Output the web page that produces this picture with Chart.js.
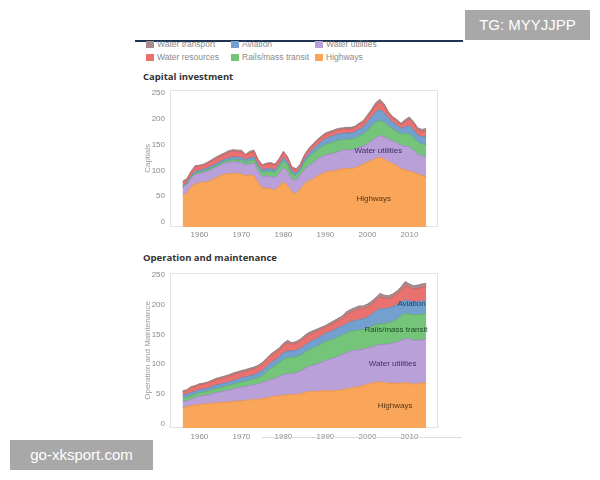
<!DOCTYPE html>
<html>
<head>
<meta charset="utf-8">
<script src="https://cdn.jsdelivr.net/npm/chart.js@4.4.0/dist/chart.umd.min.js"></script>
<style>
  html, body { margin:0; padding:0; background:#fff; }
  body { width:600px; height:480px; position:relative; overflow:hidden; font-family:"Liberation Sans", Arial, sans-serif; }
  .abs { position:absolute; }
  .title { font-family:"Open Sans","DejaVu Sans",sans-serif; font-weight:bold; font-size:9.5px; color:#333; white-space:nowrap; }
  .leg { font-size:8.5px; color:#8a8a8a; white-space:nowrap; line-height:10px; }
  .leg span.sw { display:inline-block; width:8px; height:7px; margin-right:3px; vertical-align:-1px; }
  .wm { background:#a8a8a8; color:#fff; font-family:"Liberation Sans", Arial, sans-serif; font-size:15px; line-height:30px; text-align:center; }
</style>
</head>
<body>
<div class="abs" style="left:135px; top:40px; width:328px; height:2px; background:#1d3552;"></div>
<div id="legend"></div>
<div class="abs title" style="left:143px; top:70px;">Capital investment</div>
<canvas id="c1" class="abs" width="310" height="162" style="left:135px; top:80px;"></canvas>
<div class="abs title" style="left:143px; top:251px;">Operation and maintenance</div>
<canvas id="c2" class="abs" width="310" height="180" style="left:135px; top:263px;"></canvas>
<div class="abs" style="left:262px; top:437px; width:200px; height:1px; background:#ddd;"></div>
<div class="abs wm" style="left:465px; top:10px; width:125px; height:30px;">TG: MYYJJPP</div>
<div class="abs wm" style="left:10px; top:440px; width:143px; height:30px;">go-xksport.com</div>
<script>
const years = [];
for (let y = 1956; y <= 2014; y++) years.push(y);

const seriesNames = ["Highways", "Water utilities", "Rails/mass transit", "Aviation", "Water resources", "Water transport"];
const fillColors  = ["#F9A65A", "#B9A0D9", "#74C47A", "#73A0CF", "#E9716F", "#A68C8C"];
const lineColors  = ["#E28E47", "#9B83C0", "#58A95F", "#5A87B6", "#CB5857", "#8A7272"];
const textColors  = ["#5a3410", "#3b2f66", "#1f4d22", "#1f3f66", "#6a2020", "#443333"];

// Capital investment (billions)
const capHighways = [52,56,68,74,76,77,78,82,86,90,93,93,95,94,93,90,91,90,76,66,66,64,62,70,78,71,58,55,64,74,80,83,89,93,97,98,99,101,103,104,103,105,108,112,116,119,123,125,122,117,113,109,103,101,99,96,93,90,88];
const capWaterUtil = [15,16,17,18,18,19,20,20,20,20,21,22,22,22,22,20,22,24,22,22,23,24,24,25,27,26,25,26,27,28,29,31,32,33,33,33,34,35,36,36,36,36,36,35,35,38,40,42,43,43,44,44,45,46,46,43,38,38,39];
const capRails = [2,2,2,3,3,3,3,3,3,3,3,4,4,4,5,5,6,7,7,8,9,10,10,12,14,13,10,9,8,13,16,18,18,19,20,21,22,22,20,20,21,21,22,23,26,28,30,29,28,26,23,22,22,24,25,24,23,23,23];
const capAviation = [2,2,2,3,3,3,4,4,4,4,4,5,5,5,5,5,5,5,5,5,5,5,5,5,6,5,5,5,5,6,7,8,9,10,11,12,12,12,12,12,12,12,13,14,16,18,20,21,18,15,13,12,11,13,16,15,14,14,15];
const capWaterRes = [6,6,7,9,8,8,9,9,10,10,10,11,11,11,11,9,10,10,9,8,9,10,9,9,10,9,7,6,6,7,8,8,8,8,8,8,8,8,8,8,8,8,9,9,10,11,13,15,13,9,8,8,7,10,13,12,10,10,12];
const capWaterTrans = [2,2,2,2,2,2,2,3,3,3,3,3,3,3,3,2,3,3,2,2,2,2,2,2,2,2,2,2,2,2,2,3,3,3,3,3,3,3,3,3,3,3,3,3,4,4,5,5,4,3,3,3,3,4,4,4,4,4,4];

// Operation and maintenance (billions)
const omHighways = [27,28,30,31,32,33,33,34,35,35,36,36,37,38,38,39,40,40,41,42,43,45,46,47,48,48,49,49,50,52,54,54,54,55,55,55,55,56,57,58,60,61,62,64,66,68,69,70,69,68,68,68,68,69,68,66,67,68,69];
const omWaterUtil = [10,10,11,12,14,14,15,16,17,18,19,20,21,22,23,23,24,25,26,27,28,29,30,32,34,35,35,36,38,40,42,44,46,48,51,53,55,57,59,61,62,62,62,61,61,61,62,63,64,66,67,69,72,74,74,74,73,73,73];
const omRails = [6,6,6,6,6,6,6,7,7,7,7,8,8,8,9,9,9,10,10,12,16,19,21,23,26,28,27,27,27,27,28,29,30,31,32,32,32,33,33,33,33,33,33,33,33,34,35,35,35,36,37,39,41,42,42,43,43,43,43];
const omAviation = [5,5,5,5,5,5,5,5,6,6,6,6,6,6,7,7,7,7,8,8,9,9,10,10,11,11,11,11,11,12,12,13,13,13,14,14,15,15,15,16,16,17,18,18,19,21,23,25,25,25,24,24,23,23,22,22,22,22,22];
const omWaterRes = [5,6,8,8,8,8,9,9,9,9,9,9,10,10,9,10,10,10,10,11,11,12,12,12,13,14,11,12,13,13,13,12,12,12,10,11,12,12,13,15,16,17,18,17,17,17,18,20,18,15,17,18,20,25,23,21,22,23,24];
const omWaterTrans = [2,2,2,2,2,2,2,2,2,3,3,3,3,3,3,3,3,3,3,3,3,3,3,3,3,4,3,3,3,4,4,4,4,3,3,4,4,4,4,5,5,5,5,5,5,5,5,6,5,5,5,5,6,6,6,6,6,6,5];

const yTicks = [0, 50, 100, 150, 200, 250];
const xTicks = [1960, 1970, 1980, 1990, 2000, 2010];

// legend: column-major, order as in reference
const legendOrder = [5, 4, 3, 2, 1, 0];
(function buildLegend(){
  const L = document.getElementById('legend');
  const colX = [146, 231, 315];
  const rowY = [39, 52];
  legendOrder.forEach((si, k) => {
    const col = Math.floor(k / 2), row = k % 2;
    const d = document.createElement('div');
    d.className = 'abs leg';
    d.style.left = colX[col] + 'px';
    d.style.top = rowY[row] + 'px';
    d.innerHTML = '<span class="sw" style="background:' + fillColors[si] + '"></span>' + seriesNames[si];
    L.appendChild(d);
  });
})();

const framePlugin = {
  id: 'frame',
  beforeDatasetsDraw(chart) {
    const a = chart.chartArea, ctx = chart.ctx;
    ctx.save();
    ctx.strokeStyle = '#e2e2e2';
    ctx.lineWidth = 1;
    ctx.strokeRect(Math.round(a.left) + 0.5, Math.round(a.top) + 0.5, Math.round(a.right - a.left) - 1, Math.round(a.bottom - a.top) - 1);
    ctx.restore();
  }
};

const labelPlugin = {
  id: 'areaLabels',
  afterDatasetsDraw(chart, args, opts) {
    const ctx = chart.ctx, xs = chart.scales.x, ys = chart.scales.y;
    ctx.save();
    ctx.font = '8px "Liberation Sans", Arial, sans-serif';
    ctx.textAlign = 'center';
    ctx.textBaseline = 'middle';
    (opts.items || []).forEach(it => {
      ctx.fillStyle = textColors[it.s];
      ctx.fillText(it.text, xs.getPixelForValue(it.x), ys.getPixelForValue(it.y));
    });
    ctx.restore();
  }
};

function makeChart(id, seriesArr, yTitle, yMin, yMax, labels, xPad) {
  const datasets = seriesArr.map((vals, i) => ({
    label: seriesNames[i],
    data: vals.map((v, j) => ({ x: years[j], y: v })),
    backgroundColor: fillColors[i],
    borderColor: lineColors[i],
    borderWidth: 0.8,
    pointRadius: 0,
    fill: i === 0 ? 'start' : '-1',
    tension: 0
  }));
  return new Chart(document.getElementById(id), {
    type: 'line',
    data: { datasets },
    options: {
      responsive: false,
      animation: false,
      events: [],
      layout: { padding: { top: 4, right: 7, left: 0, bottom: 0 } },
      plugins: {
        legend: { display: false },
        tooltip: { enabled: false },
        areaLabels: { items: labels }
      },
      scales: {
        x: {
          type: 'linear', min: 1953, max: 2016.8,
          grid: { display: false, drawTicks: false },
          border: { display: false },
          afterBuildTicks: s => { s.ticks = xTicks.map(v => ({ value: v })); },
          afterFit: s => { s.height = 15; },
          ticks: { padding: xPad, color: '#8a8a8a', font: { size: 8, family: '"Liberation Sans", Arial, sans-serif' }, callback: v => String(v), maxRotation: 0 }
        },
        y: {
          stacked: true, min: yMin, max: yMax,
          grid: { display: false, drawTicks: false },
          border: { display: false },
          afterBuildTicks: s => { s.ticks = yTicks.map(v => ({ value: v })); },
          afterFit: s => { s.width = 35; },
          ticks: { padding: 5, color: '#8a8a8a', font: { size: 8, family: '"Liberation Sans", Arial, sans-serif' } },
          title: { display: true, text: yTitle, color: '#999', font: { size: 8, family: '"Liberation Sans", Arial, sans-serif' }, padding: { top: 8, bottom: 0 } }
        }
      }
    },
    plugins: [framePlugin, labelPlugin]
  });
}

makeChart('c1',
  [capHighways, capWaterUtil, capRails, capAviation, capWaterRes, capWaterTrans],
  'Captials', -9.3, 255.5,
  [ { text: 'Water utilities', x: 2002.6, y: 137, s: 1 },
    { text: 'Highways', x: 2001.5, y: 46, s: 0 } ], 3);

makeChart('c2',
  [omHighways, omWaterUtil, omRails, omAviation, omWaterRes, omWaterTrans],
  'Operation and Maintenance', -7.6, 253.7,
  [ { text: 'Aviation', x: 2010.5, y: 201, s: 3 },
    { text: 'Rails/mass transit', x: 2006.8, y: 158, s: 2 },
    { text: 'Water utilities', x: 2006, y: 100, s: 1 },
    { text: 'Highways', x: 2006.6, y: 30, s: 0 } ], 4);
</script>
</body>
</html>
